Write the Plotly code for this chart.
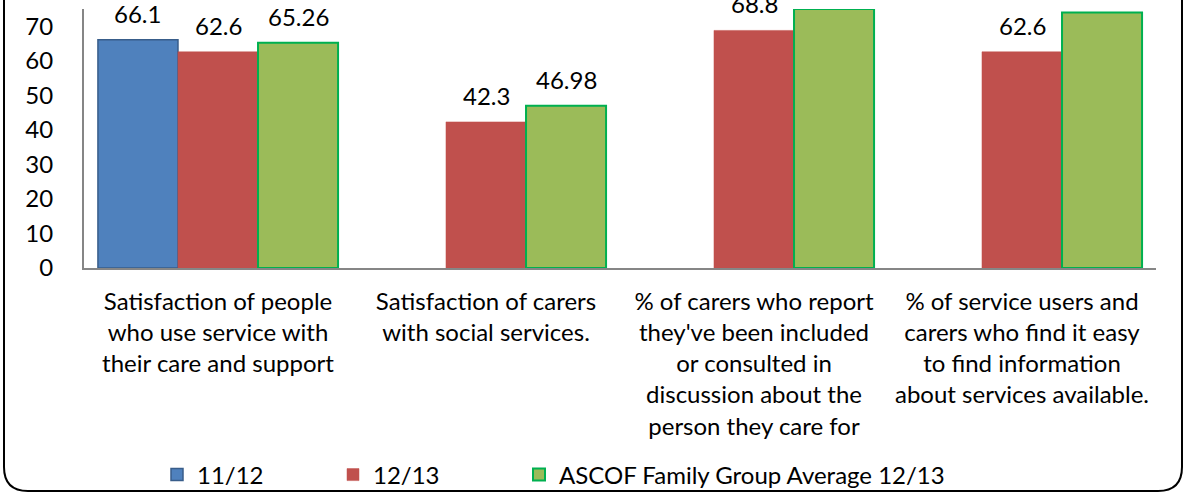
import plotly.graph_objects as go

# ---------------- data ----------------
categories = [
    "Satisfaction of people<br>who use service with<br>their care and support",
    "Satisfaction of carers<br>with social services.",
    "% of carers who report<br>they've been included<br>or consulted in<br>discussion about the<br>person they care for",
    "% of service users and<br>carers who find it easy<br>to find information<br>about services available.",
]
series_names = ["11/12", "12/13", "ASCOF Family Group Average 12/13"]
values_1112 = [66.1, None, None, None]
values_1213 = [62.6, 42.3, 68.8, 62.6]
values_ascof = [65.26, 46.98, 75.0, 74.0]
y_ticks = [0, 10, 20, 30, 40, 50, 60, 70]
y_max = 75

# ---------------- styles ----------------
fills = ["#4F81BD", "#C0504D", "#9BBB59"]
edges = ["#385D8A", "#C0504D", "#00B050"]
edge_w = [1.5, 0.5, 2]
legend_w = [131, 141, 440]
FONT = "Lato"
FS = 24

W, H = 1186, 493
L, R, T, B = 84, 1156, 9, 268
bargap = 0.104


def px2paper(px, py):
    return (px - L) / (R - L), (B - py) / (B - T)


fig = go.Figure()
all_vals = [values_1112, values_1213, values_ascof]
for name, vals, fc, ec, ew, lw in zip(series_names, all_vals, fills, edges, edge_w, legend_w):
    fig.add_trace(go.Bar(
        x=categories, y=vals, name=name,
        marker=dict(color=fc, line=dict(color=ec, width=ew)),
        legendwidth=lw,
        hoverinfo="skip",
    ))

# data labels
cat_px = (R - L) / len(categories)
bar_px = cat_px * (1 - bargap) / len(series_names)
annotations = []
for s, vals in enumerate(all_vals):
    for c, v in zip(categories, vals):
        if v is None:
            continue
        annotations.append(dict(
            x=c, y=v, xref="x", yref="y", text=f"{v:g}", showarrow=False,
            xanchor="center", yanchor="bottom", yshift=10,
            xshift=(s - 1) * bar_px,
            font=dict(family=FONT, size=FS, color="black"),
        ))

# outer rounded border (top is cropped)
r = 24
xl, xr, yb, ytop = 4, 1182, 491, -30


def P(px, py):
    x, y = px2paper(px, py)
    return f"{x:.5f},{y:.5f}"


path = (f"M{P(xl, ytop)} L{P(xl, yb - r)} Q{P(xl, yb)} {P(xl + r, yb)} "
        f"L{P(xr - r, yb)} Q{P(xr, yb)} {P(xr, yb - r)} L{P(xr, ytop)}")

leg_x, leg_y = px2paper(157, 475)

fig.update_layout(
    width=W, height=H,
    margin=dict(l=L, r=W - R, t=T, b=H - B, autoexpand=False),
    paper_bgcolor="white", plot_bgcolor="white",
    barmode="group", bargap=bargap, bargroupgap=0,
    font=dict(family=FONT, size=FS, color="black"),
    showlegend=True,
    legend=dict(
        orientation="h", xref="paper", yref="paper",
        x=leg_x, xanchor="left", y=leg_y, yanchor="middle",
        bgcolor="rgba(0,0,0,0)", borderwidth=0,
        font=dict(family=FONT, size=FS, color="black"),
        itemclick=False, itemdoubleclick=False,
    ),
    annotations=annotations,
    shapes=[dict(type="path", xref="paper", yref="paper", path=path,
                 line=dict(color="black", width=2), layer="above")],
    xaxis=dict(
        showline=True, linecolor="#868686", linewidth=2,
        ticks="", showgrid=False, tickangle=0, automargin=False,
        tickfont=dict(family=FONT, size=FS, color="black"),
        ticklabelstandoff=11, fixedrange=True,
    ),
    yaxis=dict(
        range=[0, y_max], tickvals=y_ticks, showline=True,
        linecolor="#868686", linewidth=2, ticks="", showgrid=False,
        zeroline=False, automargin=False,
        tickfont=dict(family=FONT, size=FS, color="black"),
        ticklabelstandoff=24, fixedrange=True,
    ),
)

fig.write_html(
    "out.html",
    config={"displayModeBar": False, "staticPlot": True},
    post_script="document.body.style.margin='0';document.body.style.padding='0';"
                "document.body.style.overflow='hidden';",
)
